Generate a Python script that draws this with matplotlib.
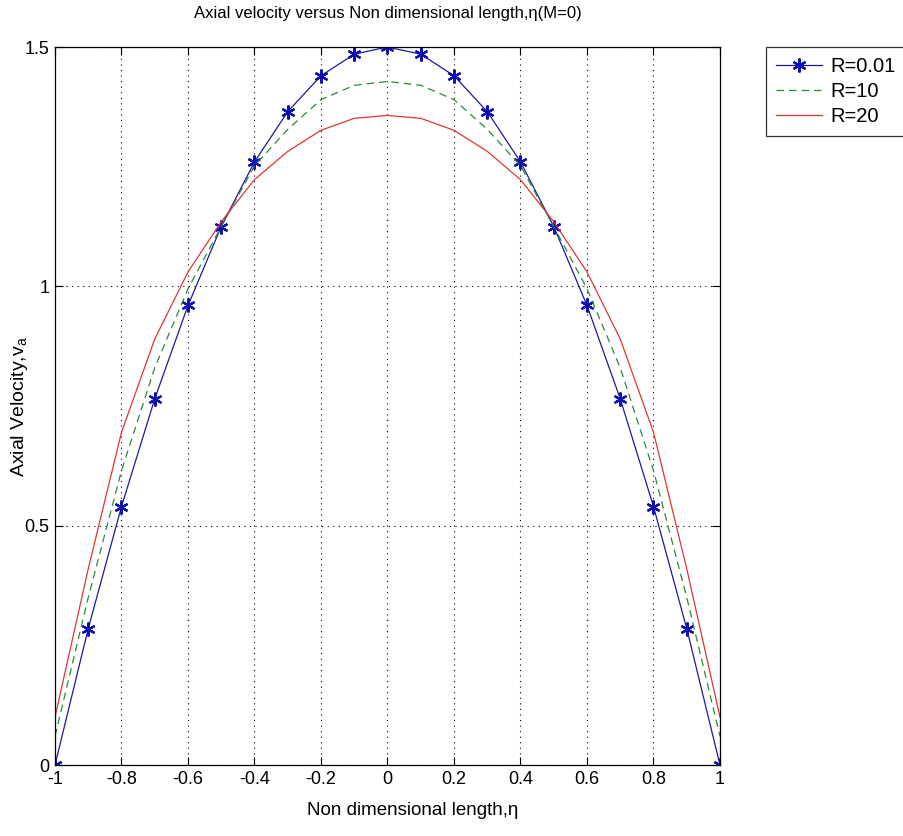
import matplotlib
matplotlib.use("Agg")
import matplotlib.pyplot as plt
import numpy as np

# non dimensional length, step 0.1
eta = [-1.0, -0.9, -0.8, -0.7, -0.6, -0.5, -0.4, -0.3, -0.2, -0.1, 0.0,
       0.1, 0.2, 0.3, 0.4, 0.5, 0.6, 0.7, 0.8, 0.9, 1.0]

# axial velocity
v_r001 = [0.0, 0.285, 0.54, 0.765, 0.96, 1.125, 1.26, 1.365, 1.44, 1.485, 1.5,
          1.485, 1.44, 1.365, 1.26, 1.125, 0.96, 0.765, 0.54, 0.285, 0.0]
v_r10 = [0.06, 0.35, 0.615, 0.83, 0.995, 1.125, 1.252, 1.328, 1.39, 1.42, 1.428,
         1.42, 1.39, 1.328, 1.252, 1.125, 0.995, 0.83, 0.615, 0.35, 0.06]
v_r20 = [0.10, 0.41, 0.695, 0.89, 1.03, 1.135, 1.223, 1.282, 1.326, 1.351, 1.357,
         1.351, 1.326, 1.282, 1.223, 1.135, 1.03, 0.89, 0.695, 0.41, 0.10]

labels = ["R=0.01", "R=10", "R=20"]
xticks = [-1, -0.8, -0.6, -0.4, -0.2, 0, 0.2, 0.4, 0.6, 0.8, 1]
xticklabels = ["-1", "-0.8", "-0.6", "-0.4", "-0.2", "0", "0.2", "0.4", "0.6", "0.8", "1"]
yticks = [0, 0.5, 1, 1.5]
yticklabels = ["0", "0.5", "1", "1.5"]

plt.rcParams['font.family'] = ['Liberation Sans', 'DejaVu Sans']
plt.rcParams['mathtext.fontset'] = 'custom'
plt.rcParams['mathtext.rm'] = 'Liberation Sans'

fig = plt.figure(figsize=(9.04, 8.36), dpi=100)
ax = fig.add_axes([55/904, 1 - 765/836, 665/904, 718/836])

ax.plot(eta, v_r001, color='#1a1a9a', lw=0.9, marker=(6, 2, 0), ms=10, mew=1.6,
        mec='#1010b0', label=labels[0])
ax.plot(eta, v_r10, color='#2a8a3a', lw=0.9, ls=(0, (6, 4)), label=labels[1])
ax.plot(eta, v_r20, color='#e03535', lw=0.9, label=labels[2])

ax.set_xlim(-1, 1)
ax.set_ylim(0, 1.5)
ax.set_xticks(xticks)
ax.set_xticklabels(xticklabels)
ax.set_yticks(yticks)
ax.set_yticklabels(yticklabels)
ax.tick_params(direction='in', top=True, right=True, length=6, width=0.8,
               labelsize=13, pad=4)
ax.grid(True, color='black', ls=(0, (1, 4)), lw=0.8)
for s in ax.spines.values():
    s.set_linewidth(0.9)

ax.set_title("Axial velocity versus Non dimensional length,\u03b7(M=0)", fontsize=12, pad=21)
ax.set_xlabel("Non dimensional length,\u03b7", fontsize=13.5)
ax.xaxis.set_label_coords((413 - 55) / 665, -0.052)
ax.set_ylabel(r"Axial Velocity,v$_{\mathrm{a}}$", fontsize=14)
ax.yaxis.set_label_coords(-0.038, 0.5)

leg = ax.legend(loc='upper left', bbox_to_anchor=(766/904, 1 - 47/836),
                bbox_transform=fig.transFigure, fontsize=14.5, frameon=True,
                fancybox=False, edgecolor='black', borderaxespad=0,
                handlelength=2.3, handletextpad=0.4, labelspacing=0.3,
                borderpad=0.5)
leg.get_frame().set_linewidth(0.9)

fig.savefig("out.png", dpi=100)
